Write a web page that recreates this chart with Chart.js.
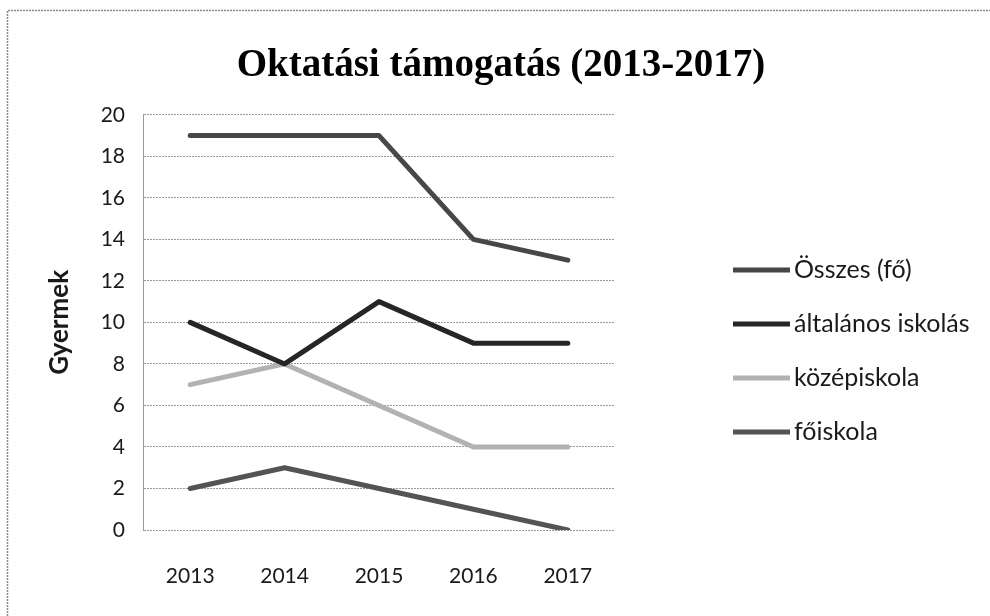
<!DOCTYPE html>
<html>
<head>
<meta charset="utf-8">
<script src="https://cdn.jsdelivr.net/npm/chart.js@4/dist/chart.umd.min.js"></script>
<style>
html,body{margin:0;padding:0;background:#fff;}
#wrap{width:990px;height:616px;position:relative;}
</style>
</head>
<body>
<div id="wrap"><canvas id="c" width="990" height="616"></canvas></div>
<script>
// ---- data ----
const categories = ['2013', '2014', '2015', '2016', '2017'];
const seriesNames = ['Összes (fő)', 'általános iskolás', 'középiskola', 'főiskola'];
const osszes = [19, 19, 19, 14, 13];
const altalanos = [10, 8, 11, 9, 9];
const kozepiskola = [7, 8, 6, 4, 4];
const foiskola = [2, 3, 2, 1, 0];
const yTickValues = [0, 2, 4, 6, 8, 10, 12, 14, 16, 18, 20];
const chartTitle = 'Oktatási támogatás (2013-2017)';
const yAxisTitle = 'Gyermek';

// ---- styles ----
const seriesColors = ['#474747', '#262626', '#b2b2b2', '#545454'];
const SANS = 'Lato';

const seriesValues = [osszes, altalanos, kozepiskola, foiskola];

const framePlugin = {
  id: 'frame',
  beforeDraw(chart) {
    const ctx = chart.ctx;
    ctx.save();
    ctx.fillStyle = '#ffffff';
    ctx.fillRect(0, 0, chart.width, chart.height);
    ctx.strokeStyle = '#8a8a8a';
    ctx.lineWidth = 1.5;
    ctx.setLineDash([2, 1]);
    ctx.beginPath();
    ctx.moveTo(7.5, chart.height);
    ctx.lineTo(7.5, 10.5);
    ctx.lineTo(chart.width, 10.5);
    ctx.stroke();
    ctx.restore();
  }
};

const legendPlugin = {
  id: 'lineLegend',
  afterDraw(chart) {
    const ctx = chart.ctx;
    ctx.save();
    chart.data.datasets.forEach((ds, i) => {
      const y = 270 + i * 54;
      ctx.strokeStyle = ds.borderColor;
      ctx.lineWidth = 5;
      ctx.lineCap = 'butt';
      ctx.beginPath();
      ctx.moveTo(733, y);
      ctx.lineTo(790, y);
      ctx.stroke();
      ctx.fillStyle = '#1a1a1a';
      ctx.font = '25px ' + SANS;
      ctx.textAlign = 'left';
      ctx.textBaseline = 'middle';
      ctx.fillText(ds.label, 794, y);
    });
    ctx.restore();
  }
};

new Chart(document.getElementById('c'), {
  type: 'line',
  data: {
    labels: categories,
    datasets: seriesNames.map((name, i) => ({
      label: name,
      data: seriesValues[i],
      borderColor: seriesColors[i],
      backgroundColor: seriesColors[i],
      borderWidth: 5,
      pointRadius: 0,
      pointHoverRadius: 0,
      tension: 0,
      borderJoinStyle: 'round',
      borderCapStyle: 'round',
      fill: false
    }))
  },
  options: {
    responsive: false,
    animation: false,
    devicePixelRatio: 1,
    layout: { padding: { left: 12, right: 0, top: 0, bottom: 26 } },
    plugins: {
      legend: { display: false },
      tooltip: { enabled: false },
      title: {
        display: true,
        text: chartTitle,
        color: '#000000',
        font: { family: 'Liberation Serif', size: 39, weight: 'bold' },
        padding: { top: 43, bottom: 25 }
      }
    },
    scales: {
      x: {
        type: 'category',
        offset: true,
        afterFit(scale) { scale.height = 60; },
        grid: { display: false, drawTicks: false },
        border: { display: false },
        ticks: {
          color: '#1a1a1a',
          font: { family: SANS, size: 21 },
          padding: 34,
          maxRotation: 0,
          autoSkip: false
        }
      },
      y: {
        position: 'left',
        min: 0,
        max: 20,
        afterBuildTicks(scale) {
          scale.ticks = yTickValues.map(v => ({ value: v }));
        },
        afterFit(scale) { scale.width = 131; },
        grid: {
          color: '#999999',
          lineWidth: 1,
          drawTicks: false
        },
        border: { display: true, color: '#999999', width: 1, dash: [2, 1] },
        ticks: {
          color: '#1a1a1a',
          font: { family: SANS, size: 21 },
          padding: 18
        },
        title: {
          display: true,
          text: yAxisTitle,
          color: '#1a1a1a',
          font: { family: SANS, size: 26, weight: 'bold' },
          padding: { top: 32, bottom: 0 }
        }
      },
      legendSpace: {
        type: 'linear',
        position: 'right',
        display: true,
        afterFit(scale) { scale.width = 375; },
        grid: { display: false, drawTicks: false },
        border: { display: false },
        ticks: { display: false }
      }
    }
  },
  plugins: [framePlugin, legendPlugin]
});
</script>
</body>
</html>
